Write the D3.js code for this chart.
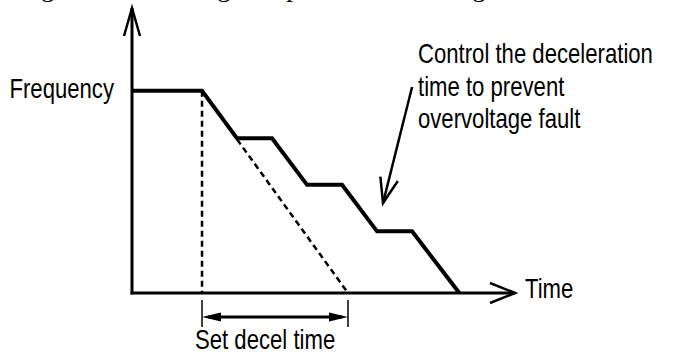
<!DOCTYPE html>
<html>
<head>
<meta charset="utf-8">
<script src="https://cdn.jsdelivr.net/npm/d3@7/dist/d3.min.js"></script>
<style>
  html, body { margin: 0; padding: 0; background: #fff; }
  svg { display: block; }
  .lbl { font-family: "Liberation Sans Narrow", "Arial Narrow", "Liberation Sans", Arial, sans-serif; font-size: 27px; fill: #000; }
  .body { font-family: "Liberation Serif", "Times New Roman", serif; font-size: 27px; fill: #000; }
</style>
</head>
<body>
<script>
// Output frequency during a decel with stall-prevention holds (time units, % of set frequency)
const times = [0, 2, 3, 4, 5, 6, 7, 8, 9.35];
const freqs = [100, 100, 76.5, 76.5, 53.5, 53.5, 30.5, 30.5, 0];

// Programmed (set) deceleration ramp: start and end time
const setDecelTimes = [2, 6.17];
const setDecelFreqs = [100, 0];

// Axis extents and titles
const axisMax = [10.94, 141];
const axisTitles = ["Time", "Frequency"];

// Callout text and where its arrow points (data units)
const noteLines = ["Control the deceleration", "time to prevent", "overvoltage fault"];
const noteArrow = [[8.0, 101.9], [7.17, 44.5]];
const dimLabel = "Set decel time";

// Tail of the running text above the figure
const bodyText = "Using the rate holding a stepwise soft braking control, the inverter";

const W = 676, H = 354;
const svg = d3.select("body").append("svg").attr("width", W).attr("height", H);

const x = d3.scaleLinear().domain([0, axisMax[0]]).range([132, 515]);
const y = d3.scaleLinear().domain([0, axisMax[1]]).range([293, 8]);

// condensed sans label: the fallback face is squeezed horizontally
function label(px, py, s, anchor = "start", k = 0.82) {
  return svg.append("text").attr("class", "lbl")
    .attr("transform", `translate(${px},${py}) scale(${k},1)`)
    .attr("text-anchor", anchor).text(s);
}

// running text line, mostly above the top edge
svg.append("text").attr("class", "body")
  .attr("x", -10).attr("y", -4).text(bodyText);

// open arrowhead helper: tip point and direction unit vector
function openHead(g, tip, from, len, half, width) {
  const dx = tip[0] - from[0], dy = tip[1] - from[1];
  const L = Math.hypot(dx, dy), ux = dx / L, uy = dy / L;
  const bx = tip[0] - ux * len, by = tip[1] - uy * len;
  const px = -uy * half, py = ux * half;
  g.append("path")
    .attr("d", `M${bx + px},${by + py}L${tip[0]},${tip[1]}L${bx - px},${by - py}`)
    .attr("fill", "none").attr("stroke", "#000").attr("stroke-width", width)
    .attr("stroke-linejoin", "miter");
}

const axes = svg.append("g");
// x axis
axes.append("line")
  .attr("x1", x(0) - 1.5).attr("y1", y(0)).attr("x2", x(axisMax[0])).attr("y2", y(0))
  .attr("stroke", "#000").attr("stroke-width", 3);
openHead(axes, [x(axisMax[0]), y(0)], [x(0), y(0)], 25, 10, 2.5);
// y axis
axes.append("line")
  .attr("x1", x(0)).attr("y1", y(0) + 1.5).attr("x2", x(0)).attr("y2", y(axisMax[1]))
  .attr("stroke", "#000").attr("stroke-width", 3);
openHead(axes, [x(0), y(axisMax[1])], [x(0), y(0)], 28, 8, 2.5);

// set-decel reference: vertical drop and programmed ramp, dashed
const dash = svg.append("g").attr("stroke", "#000").attr("stroke-width", 2.5)
  .attr("stroke-dasharray", "6,4").attr("fill", "none");
dash.append("line")
  .attr("x1", x(setDecelTimes[0])).attr("y1", y(setDecelFreqs[0]))
  .attr("x2", x(setDecelTimes[0])).attr("y2", y(0));
dash.append("path")
  .attr("d", d3.line().x(d => x(d[0])).y(d => y(d[1]))(setDecelTimes.map((t, i) => [t, setDecelFreqs[i]])));

// actual frequency profile
svg.append("path")
  .datum(times.map((t, i) => [t, freqs[i]]))
  .attr("d", d3.line().x(d => x(d[0])).y(d => y(d[1])))
  .attr("fill", "none").attr("stroke", "#000").attr("stroke-width", 4)
  .attr("stroke-linejoin", "miter");

// dimension for the set decel time
const dimY = 317;
const dim = svg.append("g");
setDecelTimes.forEach(t => {
  dim.append("line")
    .attr("x1", x(t)).attr("x2", x(t)).attr("y1", 300).attr("y2", 327)
    .attr("stroke", "#000").attr("stroke-width", 1.5);
});
const xa = x(setDecelTimes[0]), xb = x(setDecelTimes[1]);
dim.append("line")
  .attr("x1", xa + 6).attr("x2", xb - 6).attr("y1", dimY).attr("y2", dimY)
  .attr("stroke", "#000").attr("stroke-width", 3);
dim.append("path").attr("d", `M${xa},${dimY}L${xa + 19},${dimY - 4.5}L${xa + 19},${dimY + 4.5}Z`).attr("fill", "#000");
dim.append("path").attr("d", `M${xb},${dimY}L${xb - 19},${dimY - 4.5}L${xb - 19},${dimY + 4.5}Z`).attr("fill", "#000");

// labels
label(114, 98, axisTitles[1], "end");
label(525, 298, axisTitles[0]);
label(195, 349, dimLabel);

// callout
noteLines.forEach((s, i) => label(418, 63 + i * 32.5, s));
const a0 = [x(noteArrow[0][0]), y(noteArrow[0][1])];
const a1 = [x(noteArrow[1][0]), y(noteArrow[1][1])];
svg.append("line").attr("x1", a0[0]).attr("y1", a0[1]).attr("x2", a1[0]).attr("y2", a1[1])
  .attr("stroke", "#000").attr("stroke-width", 2.5);
openHead(svg, a1, a0, 25, 9, 2.5);
</script>
</body>
</html>
